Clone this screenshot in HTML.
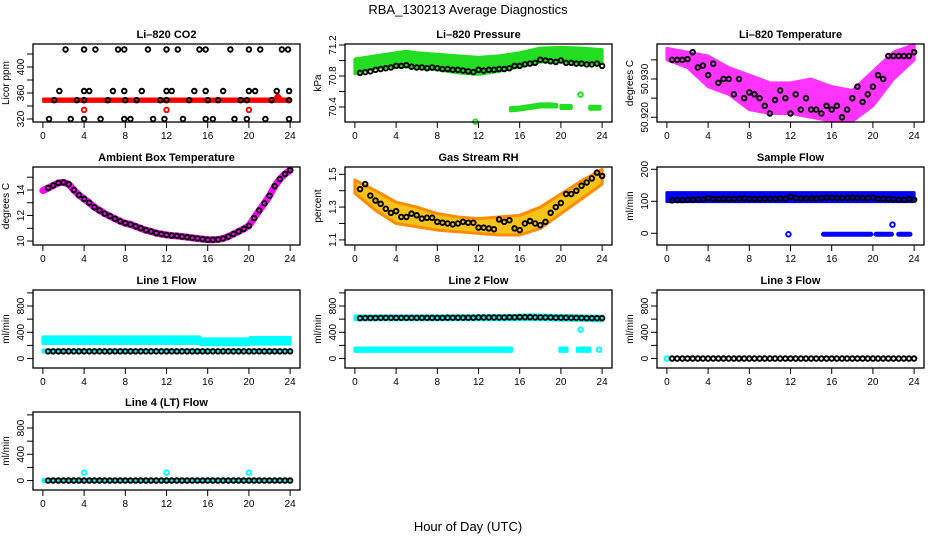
<!DOCTYPE html>
<html><head><meta charset="utf-8"><style>
body{margin:0;background:#fff}
svg{display:block;font-family:"Liberation Sans",sans-serif}
</style></head><body>
<svg id="c" width="936" height="540" viewBox="0 0 936 540">
<text x="468" y="14" text-anchor="middle" font-size="13">RBA_130213  Average Diagnostics</text>
<text x="468" y="531" text-anchor="middle" font-size="13">Hour of Day (UTC)</text>
</svg>
<script>
const xTicks=[0,4,8,12,16,20,24];
const HALF=[0.5,1,1.5,2,2.5,3,3.5,4,4.5,5,5.5,6,6.5,7,7.5,8,8.5,9,9.5,10,10.5,11,11.5,12,12.5,13,13.5,14,14.5,15,15.5,16,16.5,17,17.5,18,18.5,19,19.5,20,20.5,21,21.5,22,22.5,23,23.5,24];
// CO2
const co2TopH=[2.2,4,5.1,7.3,7.9,10.2,12,13.1,15.2,15.8,18.2,20,21.1,23.2,23.8];
const co2HighH=[1.6,4,4.5,6.8,7.9,9.6,12,12.5,14.7,15.8,17.5,20,20.6,22.7,23.9];
const co2MidH=[1.1,3.3,4,6.3,8,9.1,11.4,12,14.2,16,17,19.2,19.8,22.2,23.9];
const co2LowH=[0.6,2.7,4,5.6,7.9,8.5,10.7,11.8,13.6,15.8,16.5,18.6,19.8,21.6,23.9];
const co2Levels=[427,363,349,320];
const co2BandH=[0,6,12,18,22.4,22.8,23.2,24];
const co2BandTop=[352,352,352,352,352,360,352,352];
const co2BandBot=[346,346,346,346,346,346,346,346];
const co2RedH=[4,12,20];const co2RedV=[334,334,334];
// Pressure
const prBandH=[0,2,4,5,6,8,10,12,14,16,18,20,22,24];
const prBandTop=[71.02,71.06,71.10,71.12,71.10,71.08,71.06,71.04,71.06,71.10,71.16,71.17,71.16,71.14];
const prBandBot=[70.83,70.90,70.92,70.92,70.90,70.88,70.84,70.82,70.86,70.92,70.98,70.98,70.96,70.96];
const prLowH=[15.1,16,17,18,19,19.6];
const prLowTop=[70.39,70.40,70.42,70.44,70.44,70.43];
const prLowBot=[70.35,70.36,70.38,70.40,70.40,70.40];
const prSeg2H=[20,21];const prSeg2Top=[70.42,70.42];const prSeg2Bot=[70.38,70.38];
const prSeg3H=[22.8,23.8];const prSeg3Top=[70.41,70.41];const prSeg3Bot=[70.37,70.37];
const prOutH=[11.7,21.9];const prOutV=[70.21,70.56];
const prMean=[70.84,70.85,70.86,70.88,70.89,70.90,70.91,70.93,70.93,70.94,70.92,70.91,70.91,70.90,70.91,70.90,70.89,70.89,70.88,70.88,70.87,70.86,70.85,70.88,70.87,70.88,70.88,70.89,70.89,70.90,70.93,70.93,70.95,70.96,70.97,71.01,71.00,70.99,70.98,71.00,70.97,70.97,70.96,70.96,70.95,70.95,70.96,70.93];
// Li-820 temperature
const ltBandH=[0,2,4,6,8,10,12,14,16,18,20,22,24];
const ltBandTop=[50.938,50.937,50.936,50.933,50.931,50.929,50.929,50.930,50.928,50.927,50.932,50.937,50.939];
const ltBandBot=[50.935,50.933,50.928,50.926,50.922,50.921,50.921,50.920,50.919,50.919,50.923,50.930,50.935];
const ltMean=[50.935,50.935,50.935,50.9352,50.937,50.933,50.9335,50.931,50.934,50.929,50.930,50.930,50.926,50.930,50.925,50.9265,50.926,50.925,50.923,50.921,50.9245,50.927,50.925,50.921,50.926,50.922,50.925,50.922,50.922,50.921,50.923,50.922,50.923,50.920,50.922,50.925,50.928,50.924,50.926,50.928,50.931,50.930,50.936,50.936,50.936,50.936,50.936,50.937];
// Ambient
const ambMean=[14.15,14.35,14.55,14.6,14.45,14.0,13.6,13.3,13.0,12.65,12.4,12.15,11.95,11.75,11.55,11.4,11.3,11.15,11.0,10.85,10.75,10.62,10.55,10.48,10.43,10.4,10.35,10.3,10.25,10.2,10.15,10.1,10.1,10.12,10.2,10.35,10.55,10.75,10.95,11.2,11.8,12.4,12.95,13.55,14.3,14.85,15.25,15.55];
const ambStart=13.95;
// RH
const rhBandH=[0,2,4,6,8,10,12,14,16,18,20,22,24];
const rhBandTop=[1.465,1.40,1.33,1.30,1.26,1.24,1.23,1.24,1.25,1.30,1.38,1.46,1.53];
const rhBandBot=[1.385,1.28,1.20,1.18,1.16,1.15,1.14,1.13,1.13,1.17,1.26,1.35,1.44];
const rhMean=[1.41,1.44,1.37,1.34,1.32,1.29,1.265,1.275,1.24,1.24,1.26,1.25,1.23,1.235,1.235,1.21,1.205,1.20,1.195,1.20,1.21,1.205,1.205,1.175,1.175,1.17,1.165,1.225,1.21,1.22,1.17,1.16,1.20,1.215,1.20,1.19,1.21,1.265,1.30,1.325,1.38,1.38,1.40,1.43,1.45,1.475,1.51,1.49];
// Sample flow
const sfBandH=[0,24];const sfBandTop=[127,127];const sfBandBot=[99,99];
const sfZeroSegs=[[15.2,19.8],[20.3,21.8],[22.5,23.6]];
const sfZeroV=-3;
const sfOutH=[11.8,21.9];const sfOutV=[-3,27];
const sfMean=[103,104,104,105,105,106,106,110,107,107,108,107,107,108,109,108,107,107,108,108,108,109,108,114,110,109,109,109,109,110,111,111,110,110,110,111,110,110,110,111,108,108,107,106,105,105,107,105];
// Line 1
const l1BandH=[0,15.2,15.3,20,20.1,24];
const l1BandTop=[330,330,300,300,320,320];
const l1BandBot=[230,230,210,210,220,220];
const l1LowH=[0,24];const l1LowTop=[128,128];const l1LowBot=[100,100];
const l1Mean=[110,110,110,110,110,110,110,110,110,110,110,110,110,110,110,110,110,110,110,110,110,110,110,110,110,110,110,110,110,110,110,110,110,110,110,110,110,110,110,110,110,110,110,110,110,110,110,110];
// Line 2
const l2BandH=[0,8,15,17,20,24];
const l2BandTop=[650,650,655,665,655,645];
const l2BandBot=[590,590,590,595,585,575];
const l2LowSegs=[[0,15.2],[19.9,20.6],[21.6,22.8]];
const l2LowTop=160,l2LowBot=110;
const l2OutH=[21.9,23.7];const l2OutV=[440,135];
const l2Mean=[615,618,618,618,620,620,620,620,620,620,620,620,620,620,620,620,620,622,622,622,622,622,622,625,625,625,625,625,625,628,628,630,630,630,628,628,625,625,622,622,622,620,620,618,615,615,615,615];
// Line 3
const l3Mean=[0,0,0,0,0,0,0,0,0,0,0,0,0,0,0,0,0,0,0,0,0,0,0,0,0,0,0,0,0,0,0,0,0,0,0,0,0,0,0,0,0,0,0,0,0,0,0,0];
const l3CyanH=[0];const l3CyanV=[0];
// Line 4
const l4Mean=[0,0,0,0,0,0,0,0,0,0,0,0,0,0,0,0,0,0,0,0,0,0,0,0,0,0,0,0,0,0,0,0,0,0,0,0,0,0,0,0,0,0,0,0,0,0,0,0];
const l4CyanH=[4,12,20];const l4CyanV=[120,120,120];
const l4BandH=[0,24];const l4BandTop=[15,15];const l4BandBot=[-15,-15];

const flowTicks=[0,200,400,600,800,1000];const flowLabels=["0","","400","","800",""];

const svg=document.getElementById('c');
const NS='http://www.w3.org/2000/svg';
function mk(tag,attrs,parent){const el=document.createElementNS(NS,tag);for(const k in attrs)el.setAttribute(k,attrs[k]);(parent||svg).appendChild(el);return el;}
const colX=[33,345,657],rowY=[44,167,290,412],PW=267,PH=78;

function panel(col,row,name,title,ylab,ylo,yhi,ticks,labels){
  const g=mk('g',{});
  
  
  const x0=colX[col],y0=rowY[row];
  const sx=h=>x0+PW*(h+0.96)/25.92;
  const sy=v=>y0+PH*(yhi-v)/(yhi-ylo);
  const t=mk('text',{x:x0+PW/2,y:y0-6,'text-anchor':'middle','font-size':11,'font-weight':'bold'},g);t.textContent=title;
  
  
  const yl=mk('text',{x:0,y:0,'text-anchor':'middle','font-size':10,transform:`translate(${x0-24},${y0+PH/2}) rotate(-90)`},g);yl.textContent=ylab;
  
  
  const data=mk('g',{},g);
  
  
  const box=mk('rect',{x:x0,y:y0,width:PW,height:PH,fill:'none',stroke:'#000','stroke-width':1.3},g);
  
  
  xTicks.forEach(h=>{
    const l=mk('line',{x1:sx(h),x2:sx(h),y1:y0+PH,y2:y0+PH+6,stroke:'#000'},g);
    
    
    const tx=mk('text',{x:sx(h),y:y0+PH+17,'text-anchor':'middle','font-size':10},g);tx.textContent=h;
    
    
  });
  ticks.forEach((v,i)=>{
    const l=mk('line',{x1:x0-6,x2:x0,y1:sy(v),y2:sy(v),stroke:'#000'},g);
    
    
    if(labels[i]){const tx=mk('text',{x:0,y:0,'text-anchor':'middle','font-size':10,transform:`translate(${x0-9},${sy(v)}) rotate(-90)`},g);tx.textContent=labels[i];
    
    }
  });
  return {sx,sy,g:data};
}
function band(p,hs,top,bot,fill,stroke,name,sw){
  const pts=hs.map((h,i)=>p.sx(h)+','+p.sy(top[i])).concat(hs.slice().reverse().map((h,j)=>p.sx(h)+','+p.sy(bot[hs.length-1-j])));
  const el=mk('polygon',{points:pts.join(' '),fill:fill,stroke:stroke,'stroke-width':sw||3,'stroke-linejoin':'round'},p.g);
  
  
}
function pts(p,hs,vs,color,name){
  hs.forEach((h,i)=>{
    const c=mk('circle',{cx:p.sx(h),cy:p.sy(vs[i]),r:2.3,fill:'none',stroke:color,'stroke-width':1.9},p.g);
    
    
  });
}
function line(p,hs,vs,color,w,name){
  const el=mk('polyline',{points:hs.map((h,i)=>p.sx(h)+','+p.sy(vs[i])).join(' '),fill:'none',stroke:color,'stroke-width':w,'stroke-linecap':'round','stroke-linejoin':'round'},p.g);
  
  
}

// CO2
let p=panel(0,0,'co2','Li–820 CO2','Licor ppm',315.4,435.4,[320,340,360,380,400,420],["320","","360","","400",""]);
band(p,co2BandH,co2BandTop,co2BandBot,'#ff0000','#ff0000','co2-raw-band',1.5);
pts(p,co2RedH,co2RedV,'#ff0000','co2-raw-point');
[co2TopH,co2HighH,co2MidH,co2LowH].forEach((hs,k)=>pts(p,hs,hs.map(()=>co2Levels[k]),'#000','co2-mean-point'));
// Pressure
p=panel(1,0,'pressure','Li–820 Pressure','kPa',70.206,71.213,[70.4,70.6,70.8,71.0,71.2],["70.4","","70.8","","71.2"]);
band(p,prBandH,prBandTop,prBandBot,'#22dd22','#22dd22','pressure-raw-band');
band(p,prLowH,prLowTop,prLowBot,'#22dd22','#22dd22','pressure-low-band');
band(p,prSeg2H,prSeg2Top,prSeg2Bot,'#22dd22','#22dd22','pressure-low-band');
band(p,prSeg3H,prSeg3Top,prSeg3Bot,'#22dd22','#22dd22','pressure-low-band');
pts(p,prOutH,prOutV,'#22dd22','pressure-raw-point');
pts(p,HALF,prMean,'#000','pressure-mean-point');
// Li temp
p=panel(2,0,'licor-temp','Li–820 Temperature','degrees C',50.91877,50.93914,[50.920,50.925,50.930,50.935],["50.920","","50.930",""]);
band(p,ltBandH,ltBandTop,ltBandBot,'#ff33ff','#ff33ff','licor-temp-raw-band');
pts(p,HALF,ltMean,'#000','licor-temp-mean-point');
// Ambient
p=panel(0,1,'ambient','Ambient Box Temperature','degrees C',9.69,15.80,[10,11,12,13,14,15],["10","","12","","14",""]);
line(p,[0].concat(HALF),[ambStart].concat(ambMean),'#ff00ff',7,'ambient-raw-line');
pts(p,HALF,ambMean,'#000','ambient-mean-point');
// RH
p=panel(1,1,'rh','Gas Stream RH','percent',1.069,1.5445,[1.1,1.2,1.3,1.4,1.5],["1.1","","1.3","","1.5"]);
band(p,rhBandH,rhBandTop,rhBandBot,'#f7c21a','#ff8c00','rh-raw-band');
pts(p,HALF,rhMean,'#000','rh-mean-point');
// Sample flow
p=panel(2,1,'sample-flow','Sample Flow','ml/min',-36.6,207.2,[0,100,200],["0","100","200"]);
band(p,sfBandH,sfBandTop,sfBandBot,'#0000ff','#0000ff','sample-flow-raw-band');
sfZeroSegs.forEach(s=>line(p,s,[sfZeroV,sfZeroV],'#0000ff',5,'sample-flow-zero-segment'));
pts(p,sfOutH,sfOutV,'#0000ff','sample-flow-raw-point');
pts(p,HALF,sfMean,'#000','sample-flow-mean-point');
// Line 1
p=panel(0,2,'line1','Line 1 Flow','ml/min',-144,1044,flowTicks,flowLabels);
band(p,l1BandH,l1BandTop,l1BandBot,'#00ffff','#00ffff','line1-raw-band');
band(p,l1LowH,l1LowTop,l1LowBot,'#00ffff','#00ffff','line1-raw-low-band');
pts(p,HALF,l1Mean,'#000','line1-mean-point');
// Line 2
p=panel(1,2,'line2','Line 2 Flow','ml/min',-144,1044,flowTicks,flowLabels);
band(p,l2BandH,l2BandTop,l2BandBot,'#00ffff','#00ffff','line2-raw-band');
l2LowSegs.forEach(s=>band(p,s,[l2LowTop,l2LowTop],[l2LowBot,l2LowBot],'#00ffff','#00ffff','line2-raw-low-band'));
pts(p,l2OutH,l2OutV,'#00ffff','line2-raw-point');
pts(p,HALF,l2Mean,'#000','line2-mean-point');
// Line 3
p=panel(2,2,'line3','Line 3 Flow','ml/min',-144,1044,flowTicks,flowLabels);
pts(p,l3CyanH,l3CyanV,'#00ffff','line3-raw-point');
pts(p,HALF,l3Mean,'#000','line3-mean-point');
// Line 4
p=panel(0,3,'line4','Line 4 (LT) Flow','ml/min',-144,1044,flowTicks,flowLabels);
band(p,l4BandH,l4BandTop,l4BandBot,'#00ffff','#00ffff','line4-raw-band');
pts(p,l4CyanH,l4CyanV,'#00ffff','line4-raw-point');
pts(p,HALF,l4Mean,'#000','line4-mean-point');
</script>
</body></html>
